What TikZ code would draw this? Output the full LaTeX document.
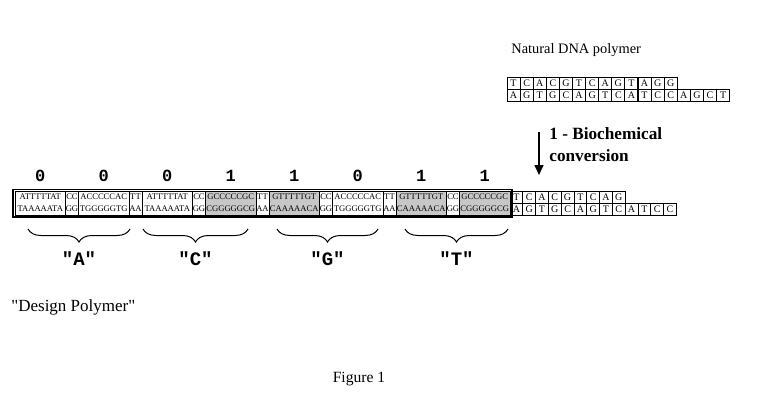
\documentclass[tikz,border=0pt]{standalone}
\usepackage{fontspec}
\setmainfont{Liberation Serif}
\setmonofont{Liberation Mono}
\newfontfamily\plainserif{Liberation Serif}
\usetikzlibrary{
  arrows.meta,
  decorations.pathreplacing,
  fit,
  positioning
}
\tikzset{
  % For the blocks of the design polymer.
  block/.style={
    draw,
    line width=0.5pt,
    minimum height=12pt,
    inner sep=0pt,
    outer sep=0pt,
    align=center,
    font=\fontsize{4.3}{6}\selectfont},
  octet/.style={
    block,
    minimum width=25.25pt},
  spacer/.style={
    block,
    minimum width=6.5pt},
%
  % For blocks that code a 1.
  marked/.style={
    fill=black!22},
%
  % For the frame round the design polymer.
  frame/.style={
    draw,
    line width=0.7pt,
    inner sep=0.9pt},
%
  % For single bases of the natural strand.
  cell/.style={
    draw,
    line width=0.5pt,
    minimum width=6.5pt,
    minimum height=6pt,
    inner sep=0pt,
    outer sep=0pt,
    font=\fontsize{5}{5}\selectfont},
%
  % For bits and letters.
  bit/.style={
    inner sep=0pt,
    font=\fontsize{8.5}{8.5}\selectfont\ttfamily\bfseries},
  letter/.style={
    inner sep=0pt,
    font=\fontsize{9.5}{9.5}\selectfont\ttfamily\bfseries},
  under brace/.style={
    decorate,
    decoration={brace, mirror, amplitude=6.5pt},
    line width=0.5pt},
%
  % For the conversion step.
  conversion/.style={
    line width=0.8pt,
    -{Triangle[length=5pt,width=4.5pt]}},
%
  % For explanations.
  description/.style={
    inner sep=0pt,
    font=\fontsize{7.2}{9}\selectfont},
  stepnote/.style={
    inner sep=0pt,
    align=left,
    font=\fontsize{8.6}{11}\selectfont\bfseries},
}

\begin{document}
\begin{tikzpicture}[x=0.5pt,y=-0.5pt]
  \useasboundingbox (0,0) rectangle (768,414);

  % design polymer: "A" "C" "G" "T"
  \node[octet, anchor=west] (a1) at (15,203) {ATTTTTAT\\TAAAAATA};
  \node[spacer, right=0pt of a1] (a2) {CC\\GG};
  \node[octet, right=0pt of a2] (a3) {ACCCCCAC\\TGGGGGTG};
  \node[spacer, right=0pt of a3] (a4) {TT\\AA};

  \node[octet, right=0pt of a4] (c1) {ATTTTTAT\\TAAAAATA};
  \node[spacer, right=0pt of c1] (c2) {CC\\GG};
  \node[octet, marked, right=0pt of c2] (c3) {GCCCCCGC\\CGGGGGCG};
  \node[spacer, right=0pt of c3] (c4) {TT\\AA};

  \node[octet, marked, right=0pt of c4] (g1) {GTTTTTGT\\CAAAAACA};
  \node[spacer, right=0pt of g1] (g2) {CC\\GG};
  \node[octet, right=0pt of g2] (g3) {ACCCCCAC\\TGGGGGTG};
  \node[spacer, right=0pt of g3] (g4) {TT\\AA};

  \node[octet, marked, right=0pt of g4] (t1) {GTTTTTGT\\CAAAAACA};
  \node[spacer, right=0pt of t1] (t2) {CC\\GG};
  \node[octet, marked, right=0pt of t2] (t3) {GCCCCCGC\\CGGGGGCG};

  \node[frame, fit=(a1)(t3)] (design) {};

  % bits
  \node[bit, above=4.6pt of a1] (bit1) {0};
  \node[bit, above=4.6pt of a3] (bit2) {0};
  \node[bit, above=4.6pt of c1] (bit3) {0};
  \node[bit, above=4.6pt of c3] (bit4) {1};
  \node[bit, above=4.6pt of g1] (bit5) {1};
  \node[bit, above=4.6pt of g3] (bit6) {0};
  \node[bit, above=4.6pt of t1] (bit7) {1};
  \node[bit, above=4.6pt of t3] (bit8) {1};

  % letters
  \draw[under brace] (28,229) -- (130,229)
    node[letter, midway, below=11pt] (lA) {"A"};
  \draw[under brace] (143,229) -- (248,229)
    node[letter, midway, below=11pt] (lC) {"C"};
  \draw[under brace] (277,229) -- (378,229)
    node[letter, midway, below=11pt] (lG) {"G"};
  \draw[under brace] (405,229) -- (508,229)
    node[letter, midway, below=11pt] (lT) {"T"};

  % natural strand
  \foreach \b [count=\i] in {T,C,A,C,G,T,C,A,G,T,A,G,G}
    \node[cell] (nt\i) at (500.45+13.1*\i,83) {\b};
  \foreach \b [count=\i] in {A,G,T,G,C,A,G,T,C,A,T,C,C,A,G,C,T}
    \node[cell] (nb\i) at (500.45+13.1*\i,95) {\b};

  % converted strand
  \foreach \b [count=\i] in {T,C,A,C,G,T,C,A,G}
    \node[cell, minimum width=6.4pt] (ct\i) at (503.6+12.8*\i,197) {\b};
  \foreach \b [count=\i] in {A,G,T,G,C,A,G,T,C,A,T,C,C}
    \node[cell, minimum width=6.4pt] (cb\i) at (503.6+12.8*\i,209) {\b};

  \coordinate (conv top) at (539,132);
  \coordinate (conv bottom) at (539,175);
  \draw[conversion] (conv top) -- (conv bottom);
  \node[stepnote, anchor=north west] (step) at (549,127)
    {1 - Biochemical\\conversion};

  \node[description, anchor=west] (natural) at (511,50) {Natural DNA polymer};
  \node[description, anchor=west, font=\fontsize{8.5}{9}\selectfont\plainserif]
    (designname) at (11,307) {"Design Polymer"};
  \node[description, font=\fontsize{7.8}{9}\selectfont]
    (caption) at (359,379) {Figure 1};
\end{tikzpicture}
\end{document}
